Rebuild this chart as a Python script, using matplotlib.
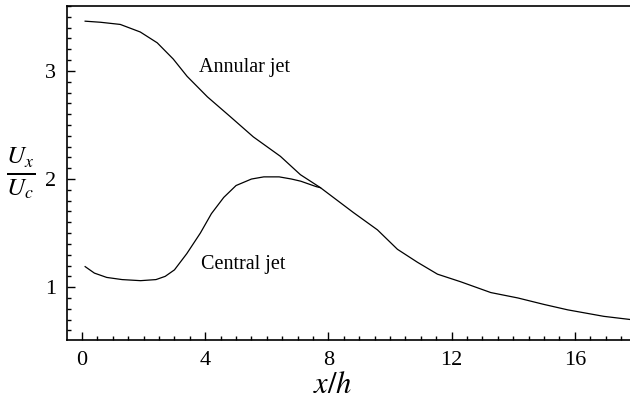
import matplotlib.pyplot as plt
from matplotlib.ticker import MultipleLocator

plt.rcParams["font.family"] = ["Liberation Serif", "DejaVu Serif"]
plt.rcParams["mathtext.fontset"] = "stix"

# values
annular_x = [0.1, 0.6, 1.24, 1.89, 2.44, 2.96, 3.41, 4.07, 4.8, 5.56, 6.44, 7.09, 7.74,
             8.81, 9.59, 10.24, 10.89, 11.54, 12.29, 13.27, 14.15, 15.0, 15.77, 16.94, 17.82]
annular_y = [3.46, 3.45, 3.43, 3.36, 3.26, 3.11, 2.95, 2.76, 2.58, 2.39, 2.21, 2.04, 1.92,
             1.69, 1.53, 1.35, 1.23, 1.12, 1.05, 0.95, 0.90, 0.84, 0.79, 0.73, 0.70]

central_x = [0.1, 0.4, 0.8, 1.3, 1.9, 2.4, 2.7, 3.0, 3.4, 3.84, 4.2, 4.6, 5.0, 5.5, 5.9, 6.4, 6.8, 7.1, 7.6, 7.74]
central_y = [1.19, 1.13, 1.09, 1.07, 1.06, 1.07, 1.10, 1.16, 1.31, 1.50, 1.68, 1.83, 1.94, 2.00, 2.02, 2.02, 2.00,
             1.98, 1.93, 1.92]

x_ticks = [0, 4, 8, 12, 16]
y_ticks = [1, 2, 3]

fig = plt.figure(figsize=(6.3, 4.03), dpi=100)
ax = fig.add_axes([0.1063, 0.156, 0.8937, 0.829])

ax.plot(annular_x, annular_y, color="black", lw=0.9)
ax.plot(central_x, central_y, color="black", lw=0.9)

ax.text(5.29, 3.03, "Annular jet", fontsize=14.5, ha="center", va="center")
ax.text(5.23, 1.21, "Central jet", fontsize=14.5, ha="center", va="center")

ax.set_xlim(-0.49, 17.79)
ax.set_ylim(0.51, 3.60)
ax.set_xticks(x_ticks)
ax.set_yticks(y_ticks)
ax.xaxis.set_minor_locator(MultipleLocator(0.5))
ax.yaxis.set_minor_locator(MultipleLocator(0.1))
ax.tick_params(which="both", direction="in", top=False, right=False, labelsize=16, width=1.0)
ax.tick_params(which="major", length=6, pad=8)
ax.tick_params(which="minor", length=3)
ax.spines["right"].set_visible(False)
for s in ["left", "bottom", "top"]:
    ax.spines[s].set_linewidth(1.2)

ax.set_xlabel("$x/h$", fontsize=22, va="center")
ax.xaxis.set_label_coords(0.472, -0.135)
ax.set_ylabel(r"$\frac{U_x}{U_c}$", fontsize=26, rotation=0, va="center")
ax.yaxis.set_label_coords(-0.082, 0.5)

fig.savefig("out.png", dpi=100)
